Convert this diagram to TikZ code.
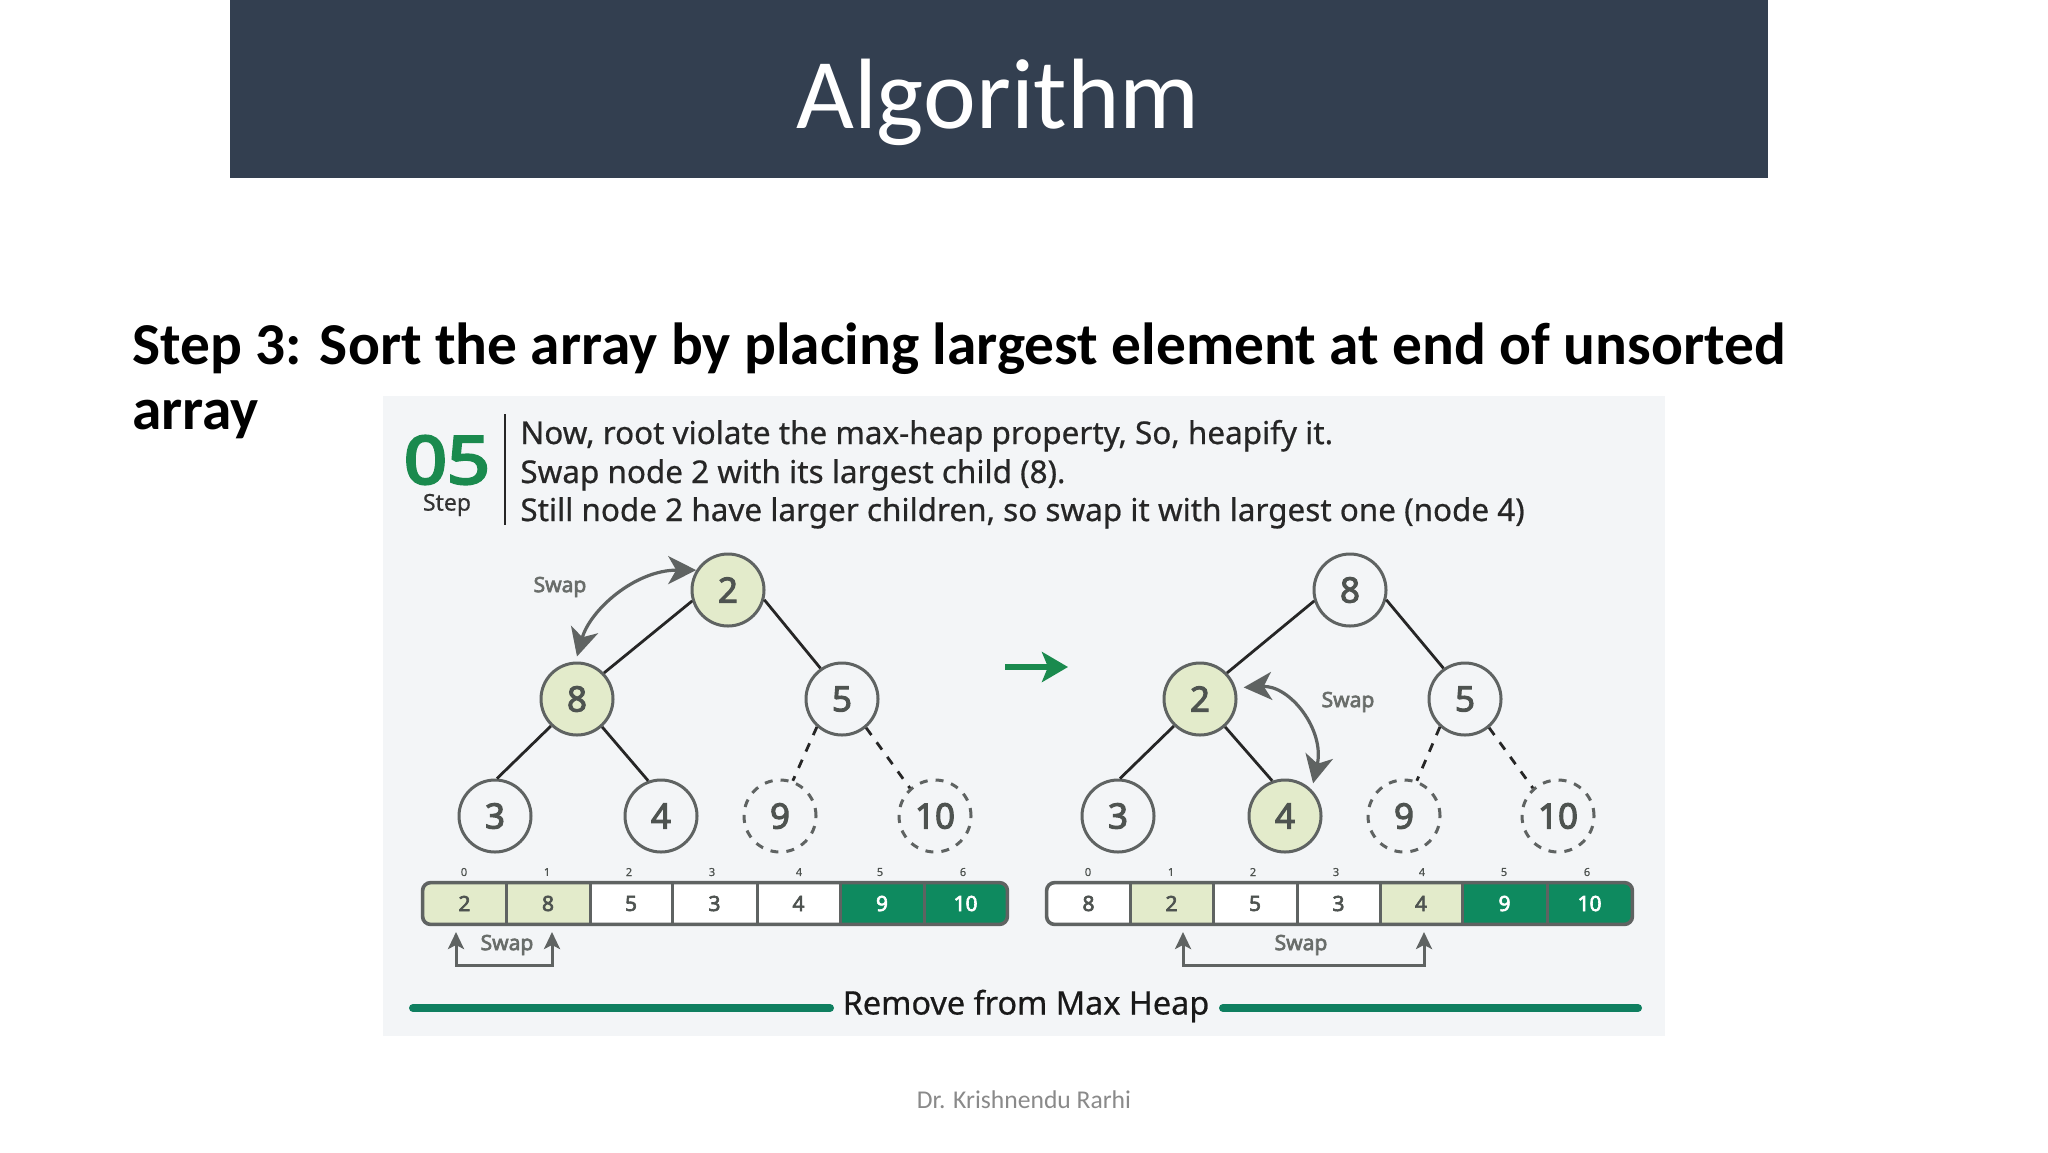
\documentclass[tikz,border=0pt]{standalone}
\usepackage{fontspec}
\usepackage{graphicx}
\setmainfont{Carlito}
\newfontfamily\figfont[FakeBold=0.6]{Noto Sans}
\newfontfamily\figbold[FakeBold=3]{Noto Sans}
\newfontfamily\figheavy[FakeBold=4]{Noto Sans}
\usetikzlibrary{arrows.meta}
\definecolor{headbg}{HTML}{333F50}
\definecolor{panelbg}{HTML}{F3F5F7}
\definecolor{mark}{HTML}{E3EBCB}
\definecolor{ring}{HTML}{5F6362}
\definecolor{ink}{HTML}{4E5350}
\definecolor{sorted}{HTML}{0E8A5F}
\definecolor{stepgreen}{HTML}{1A8A4E}
\definecolor{rule}{HTML}{0F7F60}
\definecolor{foot}{HTML}{8A8A8A}
\tikzset{
  heapnode/.style={circle,draw=ring,line width=1.5pt,minimum size=36pt,inner sep=0pt,text=ink,font=\figbold\fontsize{17.5}{17.5}\selectfont},
  marked/.style={fill=mark},
  plain/.style={fill=panelbg},
  ghost/.style={dash pattern=on 4pt off 4pt,draw=ring},
  edge/.style={line width=1.4pt,draw=black!85},
  dashedge/.style={line width=1.4pt,draw=black!85,dash pattern=on 4.5pt off 4.5pt},
  swaparrow/.style={line width=1.6pt,draw=ring,{Stealth[length=14pt,width=14pt,inset=4pt]}-{Stealth[length=14pt,width=14pt,inset=4pt]}},
  bracket/.style={line width=1.5pt,draw=ring,{Stealth[length=8.5pt,width=8pt,inset=2pt]}-{Stealth[length=8.5pt,width=8pt,inset=2pt]}},
  swaplabel/.style={font=\figbold\fontsize{10.5}{10.5}\selectfont,text=ink!85,inner sep=0pt},
  idx/.style={font=\figfont\fontsize{5.5}{5.5}\selectfont,text=ink,inner sep=0pt},
  desc/.style={anchor=base west,font=\figfont\fontsize{15.72}{15.72}\selectfont,text=black!85,inner sep=0pt},
  bottomrule/.style={line width=4pt,draw=rule,line cap=round},
}
% name, x0, x1, fill, text colour, text
\newcommand{\arrcell}[6]{%
  \node[minimum width={(#3-#2)*0.5pt},minimum height=20.5pt,inner sep=0pt,fill=#4,text=#5,
        font=\figbold\fontsize{10.5}{10.5}\selectfont] (#1) at ({(#2+#3)/2},903.5) {#6};}
\newcommand{\arrdiv}[1]{\draw[line width=1.1pt,draw=ring] (#1.north east) -- (#1.south east);}
% prefix: edges of a tree, with the ends the reference uses
\newcommand{\treeedges}[1]{%
  \draw[edge] (#1a.197) -- (#1b.44);
  \draw[edge] (#1a.-15) -- (#1c.125);
  \draw[edge] (#1b.226) -- (#1d.87);
  \draw[edge] (#1b.-48) -- (#1e.110);
  \draw[dashedge] (#1c.228) -- (#1f.70);
  \draw[dashedge] (#1c.-50) -- (#1g.132);}
\begin{document}
\begin{tikzpicture}[x=0.5pt,y=-0.5pt]
\useasboundingbox (0,0) rectangle (2048,1152);
\fill[white] (0,0) rectangle (2048,1152);
% header
\node[fill=headbg,minimum width=769pt,minimum height=89pt,inner sep=0pt] (header) at (999,89) {};
\node[text=white,font=\fontsize{50}{50}\selectfont,inner sep=0pt] (title) at (998,102) {Algorithm};
% slide text
\node[anchor=base west,font=\fontsize{29.7}{29.7}\selectfont\bfseries,inner sep=0pt] (line1) at (132,364) {Step 3: Sort the array by placing largest element at end of unsorted};
\node[anchor=base west,font=\fontsize{29.7}{29.7}\selectfont\bfseries,inner sep=0pt] (line2) at (132,429) {array};
\node[text=foot,font=\fontsize{12.8}{12.8}\selectfont,inner sep=0pt] (footer) at (1024,1100) {Dr. Krishnendu Rarhi};
% panel
\node[fill=panelbg,minimum width=641pt,minimum height=320pt,inner sep=0pt] (panel) at (1024,716) {};
\node[font=\figheavy\fontsize{33}{33}\selectfont,text=stepgreen,inner sep=0pt] (num) at (447,460) {\scalebox{1.14}[1]{05}};
\node[font=\figfont\fontsize{11.5}{11.5}\selectfont,text=black!80,inner sep=0pt] (steplabel) at (447,505) {Step};
\coordinate (bartop) at (505,414);
\coordinate (barbot) at (505,525);
\draw[line width=1.2pt,draw=black!85] (bartop) -- (barbot);
\node[desc] (d1) at (520,444) {Now, root violate the max-heap property, So, heapify it.};
\node[desc] (d2) at (520,483) {Swap node 2 with its largest child (8).};
\node[desc] (d3) at (520,521) {Still node 2 have larger children, so swap it with largest one (node 4)};
% left tree
\node[heapnode,marked] (la) at (728,590) {2};
\node[heapnode,marked] (lb) at (577,699) {8};
\node[heapnode,plain] (lc) at (842,699) {5};
\node[heapnode,plain] (ld) at (495,816) {3};
\node[heapnode,plain] (le) at (661,816) {4};
\node[heapnode,plain,ghost] (lf) at (780,816) {9};
\node[heapnode,plain,ghost] (lg) at (935,816) {10};
\treeedges{l}
\draw[swaparrow] (la.148) .. controls (635,570) and (590,610) .. ([yshift=2.5pt]lb.north);
\node[swaplabel] (ls) at (560,587) {Swap};
% middle arrow
\coordinate (ma) at (1005,667);
\coordinate (mb) at (1068,667);
\draw[line width=2.6pt,draw=stepgreen,-{Stealth[length=13pt,width=15pt,inset=3pt]}] (ma) -- (mb);
% right tree
\node[heapnode,plain] (ra) at (1350,590) {8};
\node[heapnode,marked] (rb) at (1200,699) {2};
\node[heapnode,plain] (rc) at (1465,699) {5};
\node[heapnode,plain] (rd) at (1118,816) {3};
\node[heapnode,marked] (re) at (1285,816) {4};
\node[heapnode,plain,ghost] (rf) at (1404,816) {9};
\node[heapnode,plain,ghost] (rg) at (1558,816) {10};
\treeedges{r}
\draw[swaparrow] ([xshift=4pt]rb.18) .. controls (1290,685) and (1325,730) .. ([shift={(2pt,2pt)}]re.50);
\node[swaplabel] (rs) at (1348,702) {Swap};
% left array
\begin{scope}
\clip[rounded corners=4pt] (423,883) rectangle (1007,924);
\arrcell{p0}{423}{506}{mark}{ink}{2}
\arrcell{p1}{506}{590}{mark}{ink}{8}
\arrcell{p2}{590}{672}{white}{ink}{5}
\arrcell{p3}{672}{757}{white}{ink}{3}
\arrcell{p4}{757}{840}{white}{ink}{4}
\arrcell{p5}{840}{924}{sorted}{white}{9}
\arrcell{p6}{924}{1007}{sorted}{white}{10}
\end{scope}
\arrdiv{p0}\arrdiv{p1}\arrdiv{p2}\arrdiv{p3}\arrdiv{p4}\arrdiv{p5}
\draw[line width=1.8pt,draw=ring,rounded corners=4pt] (p0.north west) rectangle (p6.south east);
\foreach \n/\t/\x in {p0/0/464,p1/1/547,p2/2/629,p3/3/712,p4/4/799,p5/5/880,p6/6/963}
  \node[idx] (i\n) at (\x,872) {\t};
% right array
\begin{scope}
\clip[rounded corners=4pt] (1047,883) rectangle (1632,924);
\arrcell{q0}{1047}{1130}{white}{ink}{8}
\arrcell{q1}{1130}{1213}{mark}{ink}{2}
\arrcell{q2}{1213}{1297}{white}{ink}{5}
\arrcell{q3}{1297}{1380}{white}{ink}{3}
\arrcell{q4}{1380}{1462}{mark}{ink}{4}
\arrcell{q5}{1462}{1547}{sorted}{white}{9}
\arrcell{q6}{1547}{1632}{sorted}{white}{10}
\end{scope}
\arrdiv{q0}\arrdiv{q1}\arrdiv{q2}\arrdiv{q3}\arrdiv{q4}\arrdiv{q5}
\draw[line width=1.8pt,draw=ring,rounded corners=4pt] (q0.north west) rectangle (q6.south east);
\foreach \n/\t/\x in {q0/0/1088,q1/1/1171,q2/2/1253,q3/3/1336,q4/4/1422,q5/5/1504,q6/6/1587}
  \node[idx] (i\n) at (\x,872) {\t};
% brackets
\coordinate (lb1) at (456,932);
\coordinate (lb2) at (552,932);
\coordinate (rb1) at (1183,932);
\coordinate (rb2) at (1424,932);
\draw[bracket] (lb1) -- (456,965) -- (552,965) -- (lb2);
\draw[bracket] (rb1) -- (1183,965) -- (1424,965) -- (rb2);
\node[swaplabel] (bs1) at (507,945) {Swap};
\node[swaplabel] (bs2) at (1301,945) {Swap};
% bottom
\node[font=\figfont\fontsize{16.2}{16.2}\selectfont,text=black!90,inner sep=0pt] (rem) at (1026,1006) {Remove from Max Heap};
\coordinate (r1a) at (413,1008);
\coordinate (r1b) at (830,1008);
\coordinate (r2a) at (1223,1008);
\coordinate (r2b) at (1638,1008);
\draw[bottomrule] (r1a) -- (r1b);
\draw[bottomrule] (r2a) -- (r2b);
\end{tikzpicture}
\end{document}
